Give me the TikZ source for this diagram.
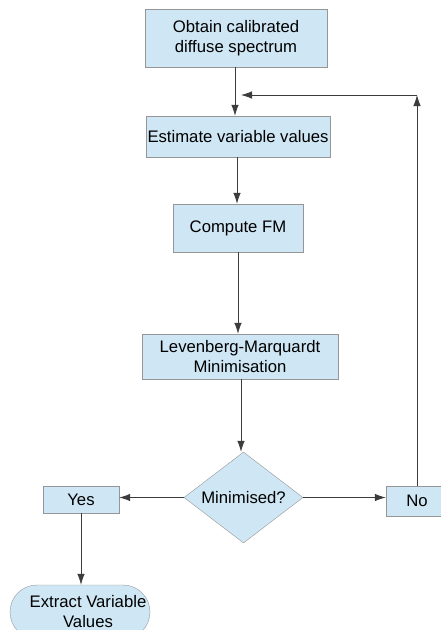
\documentclass[tikz,border=0pt]{standalone}
\usepackage{fontspec}
\setmainfont{Liberation Sans}
\usetikzlibrary{shapes.geometric,arrows.meta}

\definecolor{boxfill}{RGB}{207,231,245}
\definecolor{boxline}{RGB}{150,150,150}
\definecolor{flowline}{RGB}{60,60,60}

\begin{document}
\begin{tikzpicture}[x=1pt, y=-1pt,
    every node/.style={font=\fontsize{16.7}{20}\selectfont, align=center},
    stepbox/.style={draw=boxline, fill=boxfill, inner sep=1pt},
    test/.style={draw=boxline, fill=boxfill, diamond, aspect=1.3, inner sep=0pt,
        minimum width=119pt, minimum height=91pt},
    finish/.style={draw=boxline, fill=boxfill, rounded corners=27pt, inner sep=1pt,
        minimum width=140pt, minimum height=54pt},
    flow/.style={draw=flowline, line width=0.8pt, -{Latex[length=11pt,width=7.5pt]}}]

    \useasboundingbox (0,0) rectangle (441,630);

    %% Main chain of steps
    \node[stepbox, minimum width=182pt, minimum height=58pt] (obtain) at (236,38)
        {Obtain calibrated\\diffuse spectrum};
    \node[stepbox, minimum width=184pt, minimum height=41pt] (estimate) at (238,136.5)
        {Estimate variable values};
    \node[stepbox, minimum width=130pt, minimum height=48pt] (compute) at (238,228)
        {Compute FM};
    \node[stepbox, minimum width=196pt, minimum height=45pt] (minimise) at (240,356.5)
        {Levenberg-Marquardt\\Minimisation};

    % Decision
    \node[test] (check) at (243.5,497.5) {Minimised?};
    \node[stepbox, minimum width=76pt, minimum height=27pt] (yes) at (81,499.5) {Yes};
    \node[stepbox, minimum width=62pt, minimum height=30pt] (no) at (417,501) {No};

    % End
    \node[finish] (extract) at (80,612)
        {\hspace*{16pt}Extract Variable\\\hspace*{16pt}Values};

    % Connectors
    \draw[flow] (obtain.south -| 235,0) -- (estimate.north -| 235,0);
    \draw[flow] (estimate.south -| 237,0) -- (compute.north -| 237,0);
    \draw[flow] (compute.south -| 238,0) -- (minimise.north -| 238,0);
    \draw[flow] (minimise.south -| 241,0) -- (check.north -| 241,0);
    \draw[flow] (check.west) -- (yes.east |- check.west);
    \draw[flow] (check.east) -- (no.west |- check.east);
    \draw[flow] (yes.south) -- (extract.north -| yes.south);

    % Loop back
    \coordinate (turn) at (417,95);
    \coordinate (back) at (241,95);
    \draw[flow] (no.north) -- (turn);
    \draw[flow] (turn) -- (back);

\end{tikzpicture}
\end{document}
